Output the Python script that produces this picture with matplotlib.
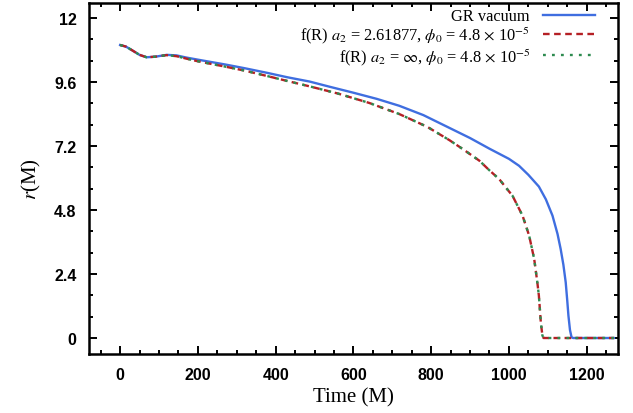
import matplotlib
matplotlib.use("Agg")
import matplotlib.pyplot as plt
from matplotlib.ticker import MultipleLocator
from matplotlib.legend import Legend

# Data
t_gr = [0, 15, 30, 50, 68, 90, 120, 145, 170, 200, 231, 270, 320, 380, 430, 487, 540, 600, 660, 718,
        780, 847, 900, 950, 1000, 1026, 1050, 1077, 1095, 1112, 1125, 1133, 1140, 1146, 1150, 1153,
        1157, 1161, 1165, 1200, 1240, 1270]
r_gr = [10.99, 10.93, 10.80, 10.62, 10.53, 10.55, 10.62, 10.60, 10.52, 10.44, 10.36, 10.26, 10.12, 9.94,
        9.78, 9.62, 9.42, 9.20, 8.97, 8.71, 8.36, 7.88, 7.50, 7.10, 6.72, 6.46, 6.12, 5.68, 5.20, 4.59,
        3.90, 3.34, 2.75, 2.09, 1.40, 0.84, 0.30, 0.03, 0.0, 0.0, 0.0, 0.0]

t_fr = [0, 15, 30, 50, 68, 90, 120, 145, 170, 200, 231, 270, 320, 380, 430, 487, 560, 640, 718, 790,
        847, 881, 924, 949, 975, 1000, 1009, 1035, 1052, 1065, 1073, 1077, 1082, 1086, 1089, 1120,
        1200, 1270]
r_fr = [10.99, 10.93, 10.80, 10.62, 10.53, 10.55, 10.61, 10.57, 10.48, 10.38, 10.29, 10.18, 10.03, 9.82,
        9.64, 9.44, 9.17, 8.82, 8.40, 7.92, 7.42, 7.09, 6.65, 6.30, 5.96, 5.50, 5.34, 4.59, 3.84, 2.96,
        2.09, 1.59, 0.59, 0.10, 0.0, 0.0, 0.0, 0.0]

labels = ["GR vacuum",
          r"f(R) $a_2$ = 2.61877, $\phi_0$ = 4.8 $\times$ 10$^{-5}$",
          r"f(R) $a_2$ = $\infty$, $\phi_0$ = 4.8 $\times$ 10$^{-5}$"]

plt.rcParams['mathtext.fontset'] = 'stix'

fig = plt.figure(figsize=(6.33, 4.14), dpi=100)
ax = fig.add_axes([0.1406, 0.1425, 0.976 - 0.1406, 0.990 - 0.1425])

l1, = ax.plot(t_gr, r_gr, color='#3f6ee0', lw=1.7)
l2, = ax.plot(t_fr, r_fr, color='#b52025', lw=1.7, ls=(0, (2.8, 1.9)))
l3, = ax.plot(t_fr, r_fr, color='#2e8b50', lw=1.7, ls=(0, (1.2, 2.6)))

ax.set_xlim(-80, 1280)
ax.set_ylim(-0.6, 12.56)
ax.xaxis.set_major_locator(MultipleLocator(200))
ax.xaxis.set_minor_locator(MultipleLocator(50))
ax.set_yticks([0, 2.4, 4.8, 7.2, 9.6, 12])
ax.set_yticklabels(['0', '2.4', '4.8', '7.2', '9.6', '12'])
ax.yaxis.set_minor_locator(MultipleLocator(0.8))

ax.tick_params(which='both', direction='in', top=True, right=True, width=1.4)
ax.tick_params(which='major', length=6, pad=9)
ax.tick_params(which='minor', length=3)
for lab in ax.get_xticklabels() + ax.get_yticklabels():
    lab.set_fontfamily('Liberation Sans')
    lab.set_fontweight('bold')
    lab.set_fontsize(11.5)
for sp in ax.spines.values():
    sp.set_linewidth(1.8)

ax.set_xlabel('Time (M)', fontfamily='Liberation Serif', fontsize=15, labelpad=4)
ax.set_ylabel(r'$r$(M)', fontfamily='Liberation Serif', fontsize=15, labelpad=8)

# one legend per row so that rows are evenly spaced
row_y = [0.962, 0.910, 0.848]
for h, lab, yy in zip([l1, l2, l3], labels, row_y):
    lg = Legend(ax, [h], [lab], loc='center right', bbox_to_anchor=(0.9565, yy),
                bbox_transform=ax.transAxes, frameon=False, markerfirst=False,
                prop={'family': 'Liberation Serif', 'size': 11.8},
                handlelength=3.15, borderaxespad=0.0, borderpad=0.0,
                handletextpad=0.8)
    ax.add_artist(lg)

fig.savefig('out.png', dpi=100)
